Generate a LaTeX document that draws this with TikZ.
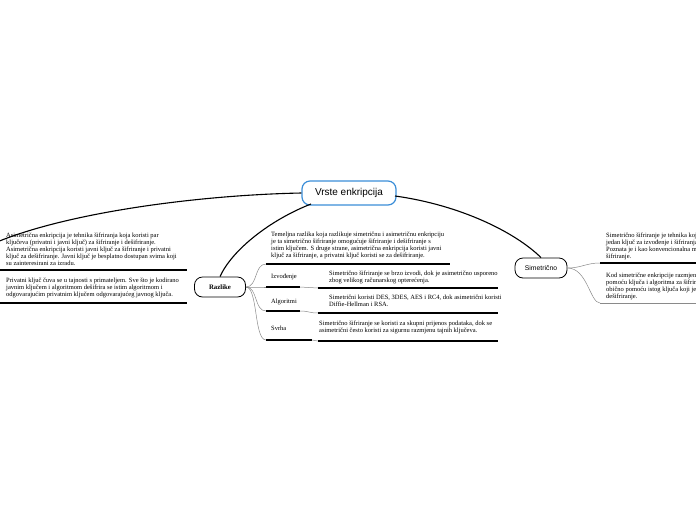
\documentclass[tikz,border=0pt]{standalone}
\usepackage{fontspec}
\setmainfont{Liberation Serif}
\newfontfamily\labsans{Liberation Sans}
\definecolor{mainblue}{HTML}{3B8ED8}
\definecolor{branchgray}{HTML}{8A8A8A}
\begin{document}
\begin{tikzpicture}[x=1pt,y=-1pt,
  txt/.style={font=\fontsize{6.5}{6.9}\selectfont, align=left, inner sep=0pt, anchor=north west},
  lab/.style={font=\fontsize{6.5}{6.9}\selectfont, inner sep=0pt, anchor=west},
  uline/.style={line width=1.4pt, black},
  branch/.style={draw=branchgray, line width=0.5pt},
  trunk/.style={draw=black, line width=1.1pt},
  mainbox/.style={draw=mainblue, line width=1.2pt, rounded corners=8pt, fill=white,
    minimum width=94pt, minimum height=24pt, inner sep=0pt, font=\labsans\fontsize{10}{11}\selectfont},
  topicbox/.style={draw=black, line width=0.8pt, rounded corners=8pt, fill=white,
    minimum height=20pt, inner sep=0pt}]
\useasboundingbox (0,0) rectangle (696,520);
\begin{scope}
\clip (0,0) rectangle (696,520);

% central node
\node[mainbox] (vr) at (349,193) {Vrste enkripcija};

% topic nodes
\node[topicbox, minimum width=51pt, font=\bfseries\fontsize{6.8}{7}\selectfont] (raz) at (220,287) {Razlike};
\node[topicbox, minimum width=52pt, font=\labsans\fontsize{6.8}{7}\selectfont] (sim) at (541,268) {Simetrično};

% left side (child of an off-canvas topic)
\coordinate (lft) at (-3,242);
\draw[trunk] (vr.west) .. controls (200,195) and (70,212) .. (lft);
\node[txt] (l1) at (6,233) {Asimetrična enkripcija je tehnika šifriranja koja koristi par\\
ključeva (privatni i javni ključ) za šifriranje i dešifriranje.\\
Asimetrična enkripcija koristi javni ključ za šifriranje i privatni\\
ključ za dešifriranje. Javni ključ je besplatno dostupan svima koji\\
su zainteresirani za izradu.};
\coordinate (l1s) at (-3,270);
\coordinate (l1e) at (187,270);
\draw[uline] (l1s) -- (l1e);
\node[txt] (l2) at (6,278) {Privatni ključ čuva se u tajnosti s primateljem. Sve što je kodirano\\
javnim ključem i algoritmom dešifrira se istim algoritmom i\\
odgovarajućim privatnim ključem odgovarajućeg javnog ključa.};
\coordinate (l2s) at (-3,303);
\coordinate (l2e) at (187,303);
\draw[uline] (l2s) -- (l2e);

% central to topics
\coordinate (vrsw) at (311,204);
\draw[trunk] (vrsw) .. controls (270,220) and (232,250) .. (raz.north);
\coordinate (vre) at (395,196);
\draw[trunk] (vre) .. controls (460,205) and (515,232) .. (sim.north);

% Razlike children
\coordinate (t0s) at (266,264);
\coordinate (t0e) at (450,264);
\coordinate (t1s) at (266,287);
\coordinate (t1m) at (300,287);
\coordinate (t1d) at (318,288);
\coordinate (t1e) at (498,288);
\coordinate (t2s) at (266,311);
\coordinate (t2m) at (300,311);
\coordinate (t2d) at (318,313);
\coordinate (t2e) at (498,313);
\coordinate (t3s) at (266,340);
\coordinate (t3m) at (312,340);
\coordinate (t3d) at (318,341);
\coordinate (t3e) at (498,341);

\draw[branch] (raz.east) .. controls +(12,0) and +(-12,0) .. (t0s);
\draw[branch] (raz.east) .. controls +(12,0) and +(-12,0) .. (t1s);
\draw[branch] (raz.east) .. controls +(12,0) and +(-12,0) .. (t2s);
\draw[branch] (raz.east) .. controls +(12,0) and +(-12,0) .. (t3s);

\node[txt] (d0) at (271,232) {Temeljna razlika koja razlikuje simetričnu i asimetričnu enkripciju\\
je ta simetrično šifriranje omogućuje šifriranje i dešifriranje s\\
istim ključem. S druge strane, asimetrična enkripcija koristi javni\\
ključ za šifriranje, a privatni ključ koristi se za dešifriranje.};
\draw[uline] (t0s) -- (t0e);

\node[lab] (izv) at (271,277) {Izvođenje};
\draw[uline] (t1s) -- (t1m);
\draw[branch] (t1m) .. controls +(9,0) and +(-9,0) .. (t1d);
\node[txt] (d1) at (329,271) {Simetrično šifriranje se brzo izvodi, dok je asimetrično usporeno\\
zbog velikog računarskog opterećenja.};
\draw[uline] (t1d) -- (t1e);

\node[lab] (alg) at (271,302) {Algoritmi};
\draw[uline] (t2s) -- (t2m);
\draw[branch] (t2m) .. controls +(9,0) and +(-9,0) .. (t2d);
\node[txt] (d2) at (329,295) {Simetrični koristi DES, 3DES, AES i RC4, dok asimetrični koristi\\
Diffie-Hellman i RSA.};
\draw[uline] (t2d) -- (t2e);

\node[lab] (svr) at (271,328) {Svrha};
\draw[uline] (t3s) -- (t3m);
\draw[branch] (t3m) .. controls +(3,0) and +(-3,0) .. (t3d);
\node[txt] (d3) at (319,321) {Simetrično šifriranje se koristi za skupni prijenos podataka, dok se\\
asimetrični često koristi za sigurnu razmjenu tajnih ključeva.};
\draw[uline] (t3d) -- (t3e);

% Simetricno children
\coordinate (r1s) at (600,263);
\coordinate (r1e) at (700,263);
\coordinate (r2s) at (600,303);
\coordinate (r2e) at (700,303);
\draw[branch] (sim.east) .. controls +(14,0) and +(-14,0) .. (r1s);
\draw[branch] (sim.east) .. controls +(20,0) and +(-10,0) .. (r2s);
\node[txt] (rt1) at (606,233) {Simetrično šifriranje je tehnika koja koristi\\
jedan ključ za izvođenje i šifriranja i dešifriranja.\\
Poznata je i kao konvencionalna metoda\\
šifriranje.};
\draw[uline] (r1s) -- (r1e);
\node[txt] (rt2) at (606,273) {Kod simetrične enkripcije razmjena podataka\\
pomoću ključa i algoritma za šifriranje, a\\
obično pomoću istog ključa koji je korišten za\\
dešifriranje.};
\draw[branch] (r2s) -- (r2e);
\end{scope}
\end{tikzpicture}
\end{document}
